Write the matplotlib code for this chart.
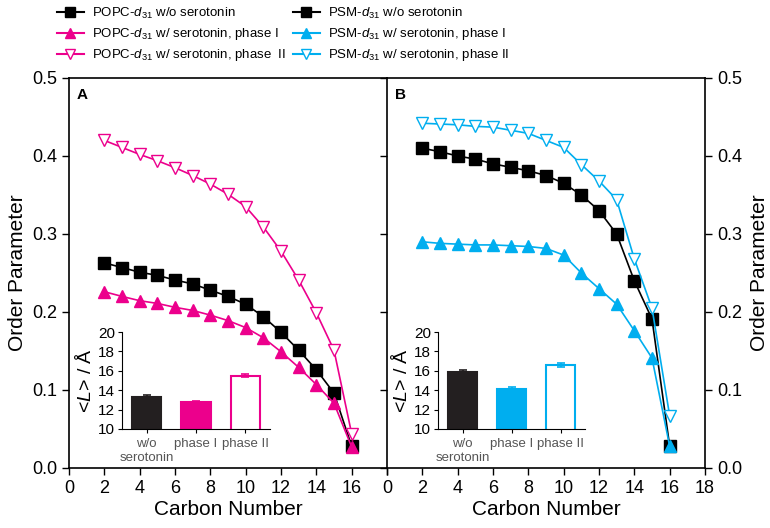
import numpy as np
import matplotlib
matplotlib.use('Agg')
import matplotlib.pyplot as plt
from matplotlib.lines import Line2D
from matplotlib import font_manager

plt.rcParams['font.family'] = ['Liberation Sans', 'DejaVu Sans']
plt.rcParams['mathtext.fontset'] = 'custom'
plt.rcParams['mathtext.rm'] = 'Liberation Sans'
plt.rcParams['mathtext.it'] = 'Liberation Sans:italic'

names = {f.name for f in font_manager.fontManager.ttflist}
narrow = 'Liberation Sans Narrow' if 'Liberation Sans Narrow' in names else 'Liberation Sans'

################################################################
carbon = np.arange(2, 17)

popc_wo = [0.263, 0.257, 0.251, 0.247, 0.241, 0.236, 0.228, 0.220, 0.210,
           0.194, 0.174, 0.151, 0.126, 0.096, 0.028]
popc_p1 = [0.226, 0.220, 0.2145, 0.211, 0.206, 0.202, 0.196, 0.189, 0.180,
           0.167, 0.149, 0.129, 0.107, 0.083, 0.027]
popc_p2 = [0.420, 0.411, 0.402, 0.394, 0.385, 0.375, 0.364, 0.351, 0.335,
           0.309, 0.278, 0.241, 0.199, 0.151, 0.044]

psm_wo = [0.410, 0.4055, 0.400, 0.396, 0.390, 0.3855, 0.381, 0.375, 0.365,
          0.350, 0.330, 0.300, 0.240, 0.191, 0.028]
psm_p1 = [0.290, 0.288, 0.287, 0.286, 0.286, 0.285, 0.284, 0.2815, 0.273,
          0.250, 0.230, 0.210, 0.176, 0.141, 0.028]
psm_p2 = [0.442, 0.441, 0.440, 0.438, 0.437, 0.433, 0.429, 0.420, 0.411,
          0.389, 0.368, 0.344, 0.268, 0.205, 0.067]

bar_labels = ['w/o\nserotonin', 'phase I', 'phase II']
popc_L = [13.3, 12.75, 15.5]
popc_Lerr = [0.2, 0.15, 0.15]
psm_L = [15.85, 14.15, 16.6]
psm_Lerr = [0.2, 0.2, 0.2]

mag = '#EC008C'
cya = '#00AEEF'
blk = '#231F20'

fig = plt.figure(figsize=(7.7, 5.28), dpi=100)
axA = fig.add_axes([69/770, 60/528, 318/770, 390/528])
axB = fig.add_axes([387/770, 60/528, 318/770, 390/528])

def panel(ax, wo, p1, p2, col):
    ax.plot(carbon, wo, '-s', color='k', ms=8, lw=1.2, mfc='k', mec='k')
    ax.plot(carbon, p1, '-^', color=col, ms=8, lw=1.2, mfc=col, mec=col)
    ax.plot(carbon, p2, '-v', color=col, ms=8, lw=1.2, mfc='white', mec=col)
    ax.set_xlim(0, 18)
    ax.set_ylim(0, 0.5)
    ax.set_xticks(np.arange(0, 19, 2))
    ax.set_yticks(np.arange(0, 0.51, 0.1))
    ax.tick_params(labelsize=13, length=5, width=1)
    ax.set_xlabel('Carbon Number', fontsize=15, labelpad=2)
    for s in ax.spines.values():
        s.set_linewidth(1.2)

panel(axA, popc_wo, popc_p1, popc_p2, mag)
panel(axB, psm_wo, psm_p1, psm_p2, cya)

axA.set_xticklabels([str(v) for v in range(0, 17, 2)] + [''])
axA.set_yticklabels(['%.1f' % v for v in np.arange(0, 0.51, 0.1)])
axA.set_ylabel('Order Parameter', fontsize=15, labelpad=4)
axA.spines['right'].set_visible(False)

axB.tick_params(axis='y', left=True, right=True, labelleft=False, labelright=True)
axB.set_yticklabels(['%.1f' % v for v in np.arange(0, 0.51, 0.1)])
axB.yaxis.set_label_position('right')
axB.set_ylabel('Order Parameter', fontsize=15, labelpad=6)

axA.text(0.025, 0.975, 'A', transform=axA.transAxes, fontsize=11,
         fontweight='bold', va='top', ha='left')
axB.text(0.025, 0.975, 'B', transform=axB.transAxes, fontsize=11,
         fontweight='bold', va='top', ha='left')

# insets
def inset(rect, vals, errs, col):
    ax = fig.add_axes(rect)
    xs = np.arange(3)
    ecols = [blk, col, col]
    ax.bar(xs, vals, width=0.6, color=[blk, col, 'white'],
           edgecolor=ecols, linewidth=1.5)
    for x, v, e, c in zip(xs, vals, errs, ecols):
        ax.errorbar(x, v, yerr=e, color=c, capsize=3, lw=1.2, capthick=1.2)
    ax.set_xlim(-0.5, 2.5)
    ax.set_ylim(10, 20)
    ax.set_yticks(np.arange(10, 21, 2))
    ax.set_xticks(xs)
    ax.set_xticklabels(bar_labels, fontsize=9.5, color='#555555')
    ax.tick_params(axis='y', labelsize=11, length=3, pad=2)
    ax.tick_params(axis='x', length=3)
    ax.spines['top'].set_visible(False)
    ax.spines['right'].set_visible(False)
    ax.set_ylabel(r'<$L$> / Å', fontsize=14, labelpad=2)
    ax.patch.set_alpha(0)
    return ax

inset([122/770, 99/528, 148/770, 97/528], popc_L, popc_Lerr, mag)
inset([438/770, 99/528, 147/770, 97/528], psm_L, psm_Lerr, cya)

handles = [
    Line2D([], [], color='k', marker='s', ms=7, mfc='k'),
    Line2D([], [], color=mag, marker='^', ms=7, mfc=mag),
    Line2D([], [], color=mag, marker='v', ms=7, mfc='white'),
    Line2D([], [], color='k', marker='s', ms=7, mfc='k'),
    Line2D([], [], color=cya, marker='^', ms=7, mfc=cya),
    Line2D([], [], color=cya, marker='v', ms=7, mfc='white'),
]
labels = [
    r'POPC-$d_{31}$ w/o serotonin',
    r'POPC-$d_{31}$ w/ serotonin, phase I',
    r'POPC-$d_{31}$ w/ serotonin, phase  II',
    r'PSM-$d_{31}$ w/o serotonin',
    r'PSM-$d_{31}$ w/ serotonin, phase I',
    r'PSM-$d_{31}$ w/ serotonin, phase II',
]
fig.legend(handles, labels, ncol=2, loc='upper left', bbox_to_anchor=(48/770, 1.006),
           frameon=False, prop={'family': [narrow, 'DejaVu Sans'], 'size': 9.5},
           handlelength=2.0, handletextpad=0.6,
           columnspacing=0.6, labelspacing=0.38, borderpad=0.2)

plt.savefig('out.png', dpi=100)
